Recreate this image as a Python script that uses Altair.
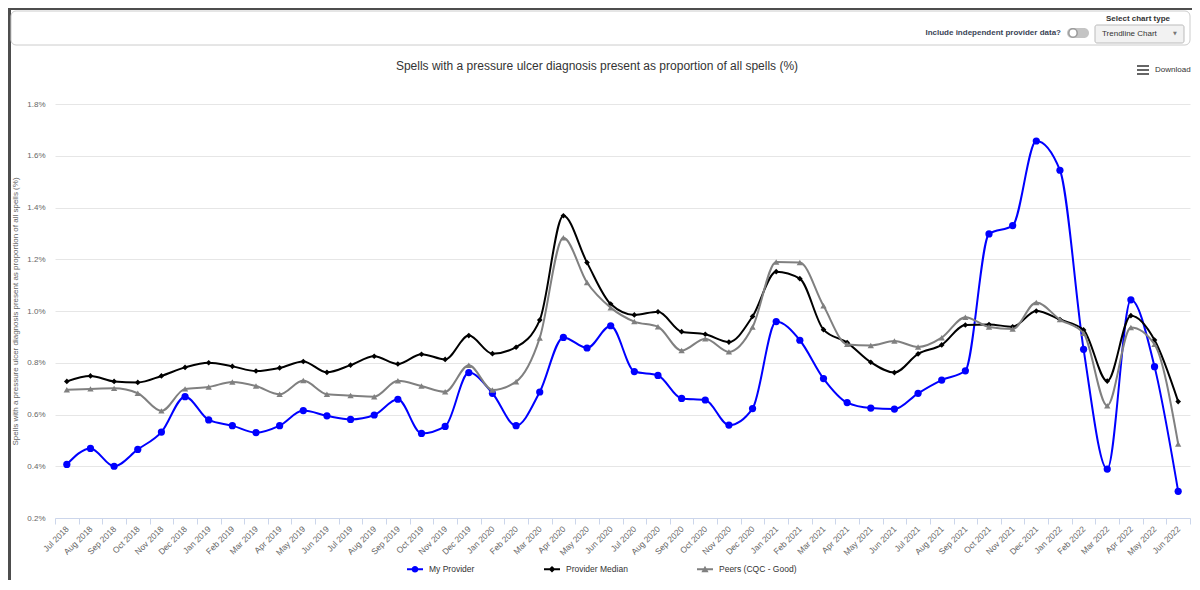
import altair as alt
import pandas as pd

months = [
    "Jul 2018", "Aug 2018", "Sep 2018", "Oct 2018", "Nov 2018", "Dec 2018",
    "Jan 2019", "Feb 2019", "Mar 2019", "Apr 2019", "May 2019", "Jun 2019",
    "Jul 2019", "Aug 2019", "Sep 2019", "Oct 2019", "Nov 2019", "Dec 2019",
    "Jan 2020", "Feb 2020", "Mar 2020", "Apr 2020", "May 2020", "Jun 2020",
    "Jul 2020", "Aug 2020", "Sep 2020", "Oct 2020", "Nov 2020", "Dec 2020",
    "Jan 2021", "Feb 2021", "Mar 2021", "Apr 2021", "May 2021", "Jun 2021",
    "Jul 2021", "Aug 2021", "Sep 2021", "Oct 2021", "Nov 2021", "Dec 2021",
    "Jan 2022", "Feb 2022", "Mar 2022", "Apr 2022", "May 2022", "Jun 2022",
]

my_provider = [
    0.407, 0.469, 0.400, 0.465, 0.532, 0.669, 0.579, 0.557, 0.530, 0.557, 0.615, 0.595,
    0.581, 0.598, 0.659, 0.527, 0.554, 0.762, 0.682, 0.557, 0.687, 0.898, 0.857, 0.943,
    0.766, 0.751, 0.662, 0.656, 0.559, 0.623, 0.959, 0.887, 0.739, 0.646, 0.625, 0.621,
    0.682, 0.733, 0.769, 1.298, 1.330, 1.657, 1.544, 0.852, 0.389, 1.043, 0.785, 0.303,
]
provider_median = [
    0.728, 0.749, 0.728, 0.724, 0.749, 0.782, 0.800, 0.786, 0.768, 0.780, 0.805, 0.763,
    0.791, 0.825, 0.795, 0.833, 0.813, 0.905, 0.835, 0.860, 0.965, 1.368, 1.187, 1.027,
    0.985, 0.997, 0.920, 0.910, 0.880, 0.979, 1.152, 1.125, 0.928, 0.878, 0.802, 0.762,
    0.834, 0.869, 0.946, 0.948, 0.939, 1.000, 0.967, 0.927, 0.729, 0.982, 0.888, 0.650,
]
peers = [
    0.696, 0.699, 0.701, 0.682, 0.614, 0.699, 0.706, 0.726, 0.710, 0.678, 0.731, 0.678,
    0.673, 0.669, 0.730, 0.710, 0.688, 0.790, 0.695, 0.727, 0.896, 1.283, 1.110, 1.013,
    0.959, 0.939, 0.847, 0.893, 0.842, 0.938, 1.189, 1.187, 1.020, 0.871, 0.867, 0.884,
    0.861, 0.897, 0.976, 0.938, 0.930, 1.033, 0.967, 0.914, 0.634, 0.936, 0.871, 0.486,
]

series_names = ["My Provider", "Provider Median", "Peers (CQC - Good)"]
series_colors = ["#0000ff", "#000000", "#808080"]
series_shapes = ["circle", "diamond", "triangle-up"]
series_sizes = [52, 32, 40]
y_ticks = [0.2, 0.4, 0.6, 0.8, 1.0, 1.2, 1.4, 1.6, 1.8]

title_text = "Spells with a pressure ulcer diagnosis present as proportion of all spells (%)"
FONT = "Liberation Sans"

# legend symbols: line with marker (unit square -1..1)
legend_paths = [
    "M-1,-0.12H1V0.12H-1Z M-0.42,0A0.42,0.42,0,1,1,0.42,0A0.42,0.42,0,1,1,-0.42,0Z",
    "M-1,-0.12H1V0.12H-1Z M0,-0.42L0.42,0L0,0.42L-0.42,0Z",
    "M-1,-0.12H1V0.12H-1Z M0,-0.45L0.45,0.36L-0.45,0.36Z",
]

rows = []
for name, vals in zip(series_names, [my_provider, provider_median, peers]):
    for i, (m, v) in enumerate(zip(months, vals)):
        rows.append({"idx": i, "month": m, "series": name, "value": v})
df = pd.DataFrame(rows)

W, H = 1135, 414
n = len(months)
band = W / n

x_scale = alt.Scale(domain=[-0.5, n - 0.5], nice=False, zero=False)
y_scale = alt.Scale(domain=[0.2, 1.8], nice=False, zero=False)

arr = "[" + ",".join("'" + m + "'" for m in months) + "]"
x_axis = alt.Axis(
    values=[i - 0.5 for i in range(n + 1)],
    labelExpr=f"datum.value > {n - 1} ? '' : {arr}[datum.value + 0.5]",
    labelAngle=315, labelAlign="right", labelBaseline="middle",
    labelOffset=band / 2, labelPadding=3, tickSize=6,
    tickColor="#ccd6eb", domainColor="#ccd6eb", grid=False,
    labelOverlap=False, labelFlush=False, labelBound=False,
    labelFont=FONT, labelFontSize=8.5, labelColor="#666666", title=None,
)
y_axis = alt.Axis(
    values=y_ticks, labelExpr="format(datum.value, '.1f') + '%'",
    domain=False, ticks=False, grid=True, gridColor="#e6e6e6",
    labelFont=FONT, labelFontSize=8, labelColor="#666666", labelPadding=10,
    title=title_text, titleFont=FONT, titleFontSize=8, titleColor="#666666",
    titleFontWeight="normal", titlePadding=7,
)

base = alt.Chart(df).encode(
    x=alt.X("idx:Q", scale=x_scale, axis=x_axis),
    y=alt.Y("value:Q", scale=y_scale, axis=y_axis),
)

layers = []
for name, col, shp, sz in zip(series_names, series_colors, series_shapes, series_sizes):
    sub = base.transform_filter(alt.datum.series == name)
    layers.append(sub.mark_line(interpolate="monotone", strokeWidth=2, color=col))
    layers.append(sub.mark_point(shape=shp, filled=True, size=sz, color=col, opacity=1))

legend_props = dict(
    orient="none", legendX=352, legendY=457, direction="horizontal", title=None,
    labelFont=FONT, labelFontSize=8.5, labelColor="#333333", symbolSize=256,
    symbolStrokeWidth=0, symbolOpacity=1, labelOffset=6, columnPadding=69, padding=0,
)
legend_layer = base.transform_filter("false").mark_point(filled=True, opacity=1).encode(
    color=alt.Color("series:N", scale=alt.Scale(domain=series_names, range=series_colors),
                    legend=alt.Legend(**legend_props)),
    shape=alt.Shape("series:N", scale=alt.Scale(domain=series_names, range=legend_paths),
                    legend=alt.Legend(**legend_props)),
)
layers.append(legend_layer)

one = alt.Data(values=[{"k": 1}])

# Chart title
layers.append(alt.Chart(one).mark_text(text=title_text, font=FONT, fontSize=12,
                                       color="#333333", align="center",
                                       baseline="middle").encode(
    x=alt.value(542), y=alt.value(-38)))
# Outer frame
layers.append(alt.Chart(one).mark_rule(color="#4d4d4d", strokeWidth=3).encode(
    x=alt.value(-45.5), y=alt.value(-95), y2=alt.value(H + 62)))
layers.append(alt.Chart(one).mark_rule(color="#4d4d4d", strokeWidth=2).encode(
    x=alt.value(-47), x2=alt.value(W + 2), y=alt.value(-95)))
# Control bar box
layers.append(alt.Chart(one).mark_rect(fill="white", stroke="#cccccc", strokeWidth=1,
                                       cornerRadius=5).encode(
    x=alt.value(-44), x2=alt.value(W), y=alt.value(-93), y2=alt.value(-59)))
layers.append(alt.Chart(one).mark_text(text="Select chart type", font=FONT, fontSize=8,
                                       fontWeight="bold", color="#333333", align="center",
                                       baseline="middle").encode(
    x=alt.value(1083), y=alt.value(-85)))
layers.append(alt.Chart(one).mark_rect(fill="#f2f2f2", stroke="#bbbbbb", strokeWidth=1,
                                       cornerRadius=2).encode(
    x=alt.value(1040), x2=alt.value(1129), y=alt.value(-79), y2=alt.value(-61)))
layers.append(alt.Chart(one).mark_text(text="Trendline Chart", font=FONT, fontSize=8,
                                       color="#333333", align="left",
                                       baseline="middle").encode(
    x=alt.value(1047), y=alt.value(-70)))
layers.append(alt.Chart(one).mark_text(text="▼", font="DejaVu Sans", fontSize=5,
                                       color="#777777", align="center",
                                       baseline="middle").encode(
    x=alt.value(1120), y=alt.value(-71)))
layers.append(alt.Chart(one).mark_text(text="Include independent provider data?", font=FONT,
                                       fontSize=8, fontWeight="bold", color="#3a4456",
                                       align="right", baseline="middle").encode(
    x=alt.value(1006), y=alt.value(-71)))
layers.append(alt.Chart(one).mark_rect(fill="#c4c4c4", cornerRadius=5).encode(
    x=alt.value(1012), x2=alt.value(1034), y=alt.value(-76), y2=alt.value(-66)))
layers.append(alt.Chart(one).mark_point(shape="circle", filled=True, fill="white",
                                        stroke="#9a9a9a", strokeWidth=1.5, size=70,
                                        opacity=1).encode(
    x=alt.value(1018), y=alt.value(-71)))
# Download button
for yy in (-38, -34, -30):
    layers.append(alt.Chart(one).mark_rule(color="#666666", strokeWidth=2).encode(
        x=alt.value(1082), x2=alt.value(1094), y=alt.value(yy)))
layers.append(alt.Chart(one).mark_text(text="Download", font=FONT, fontSize=8,
                                       color="#333333", align="left",
                                       baseline="middle").encode(
    x=alt.value(1100), y=alt.value(-34)))

chart = alt.layer(*layers).properties(
    width=W, height=H,
    padding={"left": 47, "top": 96, "right": 2, "bottom": 62},
    autosize=alt.AutoSizeParams(type="none"),
).configure(font=FONT).configure_view(strokeWidth=0)

chart.save("out.html", embed_options={"renderer": "svg", "actions": False})
